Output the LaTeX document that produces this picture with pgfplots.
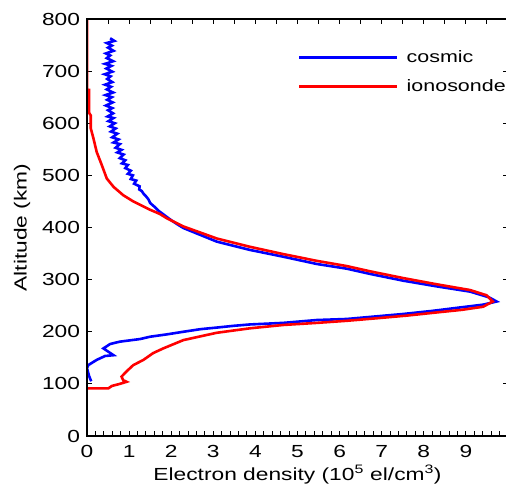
\documentclass[border=0pt]{standalone}
\usepackage{pgfplots}
\pgfplotsset{compat=1.18}
\usepackage{fontspec}
\setmainfont{Liberation Sans}[FakeStretch=1.3]
\begin{document}
\fontsize{17.5bp}{21bp}\selectfont
\begin{tikzpicture}
\begin{axis}[
  at={(87bp,55bp)}, anchor=south west,
  scale only axis, width=421bp, height=417bp,
  xmin=0, xmax=10, ymin=0, ymax=800,
  xtick={0,1,...,9}, minor xtick={0,0.2,...,10},
  ytick={0,100,...,800},
  xtick pos=left,
  major tick length=5bp, minor tick length=5bp,
  tick style={black, line width=1bp},
  axis line style={black, line width=1.3bp},
  /pgf/number format/assume math mode=true,
  ticklabel style={font=\fontsize{17.5bp}{21bp}\selectfont},
  xticklabel style={yshift=-3bp},
  yticklabel style={xshift=-1bp},
  label style={font=\fontsize{17.5bp}{21bp}\selectfont},
  xlabel={Electron density (10\textsuperscript{5} el/cm\textsuperscript{3})},
  ylabel={Altitude (km)},
  xlabel style={yshift=4bp},
  ylabel style={yshift=0bp},
  legend cell align=left,
  legend image code/.code={\draw[#1] (0bp,0bp) -- (98bp,0bp);},
  legend style={draw=none, fill=none, at={(0.501,0.925)}, anchor=north west,
    font=\fontsize{16.5bp}{20bp}\selectfont, row sep=14bp, inner sep=0pt,
    nodes={inner sep=0pt},
    /tikz/every odd column/.append style={column sep=8bp}},
]
\addplot[blue, line width=2.6bp] table {
0.10 105
0.05 115
0.00 130
0.03 136
0.23 146
0.43 153.5
0.63 155
0.39 168
0.55 176.5
0.78 181
1.26 186
1.50 190.5
1.90 195
2.29 200
2.70 205
3.08 208
3.50 211.5
3.87 214
4.66 217
5.46 222.5
6.17 224.5
6.80 229
7.50 234
8.20 240
8.80 246
9.41 252
9.73 258
9.55 266
9.10 277
8.31 287
7.51 298
6.72 311
6.17 321
5.46 330
4.66 344
3.87 357
3.08 373
2.29 399
2.15 406
2.00 414
1.85 423
1.70 432
1.60 440
1.50 447
1.46 454
1.40 460
1.35 464
1.30 470
1.24 473
1.25 479
1.12 484
1.17 490
1.04 493
1.09 500
0.97 503
1.04 509
0.91 514
0.97 520
0.83 523
0.91 529
0.78 533
0.87 540
0.72 544
0.82 549
0.68 553
0.78 560
0.63 563
0.75 569
0.60 573
0.72 580
0.57 584
0.68 590
0.54 594
0.66 600
0.51 604
0.63 610
0.49 613
0.62 619
0.50 625
0.60 629
0.45 634
0.61 640
0.48 645
0.59 650
0.44 654
0.62 659
0.47 665
0.57 670
0.43 674
0.60 679
0.48 685
0.56 690
0.42 694
0.60 699
0.46 705
0.58 710
0.43 714
0.62 719
0.47 725
0.55 730
0.45 734
0.63 739
0.50 745
0.59 749
0.47 754
0.65 758
0.55 763
};
\addlegendentry{cosmic}
\addplot[red, line width=2.6bp] table {
0.00 91.5
0.51 91.5
0.59 96
0.78 100
0.94 104
0.86 107
0.82 114
0.98 127
1.10 136
1.34 146
1.57 159
1.81 168
2.29 184
3.08 198
3.87 206.6
4.66 213
5.46 217
6.17 221
6.90 226
7.60 231
8.30 237
8.90 242
9.41 248
9.64 258
9.49 270
9.10 280
8.31 291
7.51 303
6.72 316
6.17 326
5.46 336
4.66 349
3.87 363
3.08 379
2.29 402
1.89 418
1.73 426
1.50 434
1.10 450
0.86 462
0.63 478
0.47 494
0.35 520
0.23 545
0.15 572
0.09 590
0.09 615
0.05 620
0.05 664
0.00 664
0.00 800
};
\addlegendentry{ionosonde}
\end{axis}
\begin{axis}[
  at={(87bp,55bp)}, anchor=south west,
  scale only axis, width=421bp, height=417bp,
  xmin=0, xmax=10, ymin=0, ymax=800,
  xtick={0,0.5,...,10}, xtick pos=right, xticklabels={},
  ytick=\empty,
  major tick length=5bp,
  tick style={black, line width=1bp},
  axis line style={black, line width=1.3bp},
]
\end{axis}
\pgfresetboundingbox
\path[use as bounding box] (0,0) rectangle (506bp,491bp);
\end{tikzpicture}
\end{document}
